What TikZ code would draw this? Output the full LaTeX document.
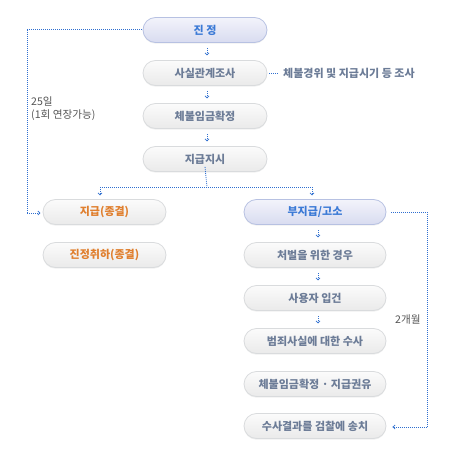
\documentclass[tikz,border=0pt]{standalone}
\usepackage{fontspec}
\setmainfont{Noto Sans CJK KR}
\usetikzlibrary{arrows.meta,shadows}
\definecolor{lavtop}{HTML}{F3F3FB}
\definecolor{lavbot}{HTML}{D8DCF0}
\definecolor{lavborder}{HTML}{B7C1E2}
\definecolor{graytop}{HTML}{FBFBFB}
\definecolor{graybot}{HTML}{EAEAEA}
\definecolor{grayborder}{HTML}{D9DBDD}
\definecolor{bluetext}{HTML}{3B7AD6}
\definecolor{graytext}{HTML}{6C7C97}
\definecolor{orangetext}{HTML}{E07F2E}
\definecolor{dotblue}{HTML}{2F6FD0}
\definecolor{labelgray}{HTML}{555555}
\tikzset{
  box/.style={rounded corners=12.5pt, minimum height=25pt, inner sep=0pt,
    draw=grayborder, line width=0.8pt, top color=graytop, bottom color=graybot,
    text=graytext, font=\bfseries\fontsize{11}{13}\selectfont,
    drop shadow={opacity=0.12, shadow xshift=0pt, shadow yshift=-1.2pt}},
  hibox/.style={box, draw=lavborder, top color=lavtop, bottom color=lavbot, text=bluetext},
  orbox/.style={box, text=orangetext},
  midcol/.style={minimum width=124pt},
  leftcol/.style={minimum width=123pt},
  rightcol/.style={minimum width=142pt},
  dotline/.style={draw=dotblue, line width=0.9pt, dash pattern=on 0.9pt off 1.1pt},
  tinyarr/.style={dotline, -{Straight Barb[length=2.2pt,width=4pt,line width=0.7pt]}, shorten <=5pt, shorten >=4.5pt},
  endarr/.style={dotline, -{Straight Barb[length=2.2pt,width=4pt,line width=0.7pt]}},
  note/.style={text=labelgray, font=\fontsize{10.6}{13}\selectfont, inner sep=0pt, align=left},
}
\begin{document}
\begin{tikzpicture}[x=1pt,y=-1pt]
\useasboundingbox (0,0) rectangle (466,452);
% middle column
\node[hibox,midcol] (jinjeong) at (205,30) {진 정};
\node[box,midcol] (sasil) at (205,73) {사실관계조사};
\node[box,midcol] (chebul) at (205,116) {체불임금확정};
\node[box,midcol] (jigeupjisi) at (205,159) {지급지시};
% left column
\node[orbox,leftcol] (jigeup) at (104.5,212) {지급(종결)};
\node[orbox,leftcol] (chwiha) at (104.5,255) {진정취하(종결)};
% right column
\node[hibox,rightcol] (bujigeup) at (315,212) {부지급/고소};
\node[box,rightcol] (cheobeol) at (315,255) {처벌을 위한 경우};
\node[box,rightcol] (ipgeon) at (315,298) {사용자 입건};
\node[box,rightcol] (susa) at (315,341) {범죄사실에 대한 수사};
\node[box,rightcol] (gwonyu) at (315,384) {체불임금확정 · 지급권유};
\node[box,rightcol] (songchi) at (315,426) {수사결과를 검찰에 송치};
% side note
\node[anchor=west, inner sep=0pt, text=graytext, font=\bfseries\fontsize{11}{13}\selectfont] (sidenote) at (283,73) {체불경위 및 지급시기 등 조사};
\draw[dotline] ([xshift=2pt]sasil.east) -- ([xshift=-5pt]sidenote.west);
% small arrows
\draw[tinyarr] (207,43) -- (207,60);
\draw[tinyarr] (207,86) -- (207,103);
\draw[tinyarr] (207,129) -- (207,146);
\draw[tinyarr] (318,225) -- (318,242);
\draw[tinyarr] (318,268) -- (318,285);
\draw[tinyarr] (318,311) -- (318,328);
% branch
\coordinate (bsplit) at (207,187);
\coordinate (bleft) at (100,187);
\coordinate (bright) at (312,187);
\draw[dotline] ([yshift=5pt]jigeupjisi.south) -- (bsplit);
\draw[dotline] (bleft) -- (bright);
\draw[endarr] (bleft) -- (100,195.5);
\draw[endarr] (bright) -- (312,195.5);
% left loop
\coordinate (l1) at (27,29);
\coordinate (l2) at (27,213);
\draw[dotline] ([xshift=-1pt]jinjeong.west |- 0,29) -- (l1) -- (l2);
\draw[endarr] (l2) -- (40.5,213);
\node[note, anchor=north west] (lab25) at (31,97) {25일\\(1회 연장가능)};
% right loop
\coordinate (r1) at (427,212);
\coordinate (r2) at (427,427);
\draw[dotline] ([xshift=5pt]bujigeup.east) -- (r1) -- (r2);
\draw[endarr] (r2) -- ([xshift=6pt]songchi.east |- 0,427);
\node[note, anchor=west] (lab2) at (395,320) {2개월};
\end{tikzpicture}
\end{document}
